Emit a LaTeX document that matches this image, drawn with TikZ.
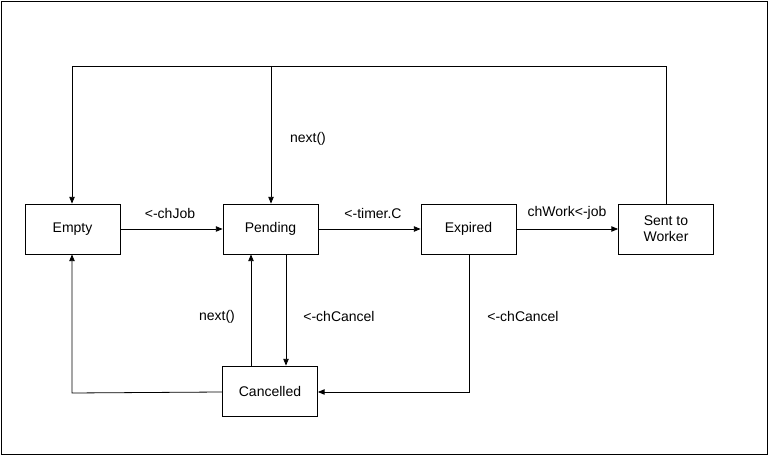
\documentclass[tikz,border=0pt]{standalone}
\usepackage{fontspec}
\setmainfont{Liberation Sans}
\usetikzlibrary{arrows.meta}
\begin{document}
\begin{tikzpicture}[x=0.75pt,y=-0.75pt,
  box/.style={draw,line width=0.6pt,minimum width=71.25pt,minimum height=37.5pt,inner sep=0pt,align=center,font=\fontsize{10.5}{12}\selectfont},
  con/.style={draw,line width=0.6pt,-{Triangle[length=5pt,width=4pt]}},
  lbl/.style={font=\fontsize{10.5}{12}\selectfont}]
\useasboundingbox (0,0) rectangle (769,456);
\draw[line width=0.6pt] (1,1) rectangle (767,454);
\node[box] (empty) at (72.5,229) {Empty};
\node[box] (pend) at (270.5,229) {Pending};
\node[box] (exp) at (468.5,229) {Expired};
\node[box] (sent) at (666,229) {Sent to\\Worker};
\node[box] (canc) at (270,391) {Cancelled};
\coordinate (tr) at (666,66);
\coordinate (tl) at (72,66);
\coordinate (tm) at (271,66);
\coordinate (br) at (469,392);
\coordinate (bl) at (72,393);
\draw[con] (empty) -- (pend);
\draw[con] (pend) -- (exp);
\draw[con] (exp) -- (sent);
\draw[con] (sent.north) -- (tr) -- (tl) -- (empty.north -| tl);
\draw[con] (tm) -- (pend.north -| tm);
\draw[con] (pend.south -| 286,0) -- (canc.north -| 286,0);
\draw[con] (canc.north -| 251,0) -- (pend.south -| 251,0);
\draw[con] (exp.south -| br) -- (br) -- (canc.east |- br);
\draw[con] (canc.west |- 0,392) -- (bl) -- (empty.south -| bl);
\node[lbl] (l1) at (170,213) {<-chJob};
\node[lbl] (l2) at (373,213) {<-timer.C};
\node[lbl] (l3) at (567,213) {chWork<-job};
\node[lbl] (l4) at (308,139) {next()};
\node[lbl] (l5) at (339,316) {<-chCancel};
\node[lbl] (l6) at (217,317) {next()};
\node[lbl] (l7) at (523,316) {<-chCancel};
\end{tikzpicture}
\end{document}
